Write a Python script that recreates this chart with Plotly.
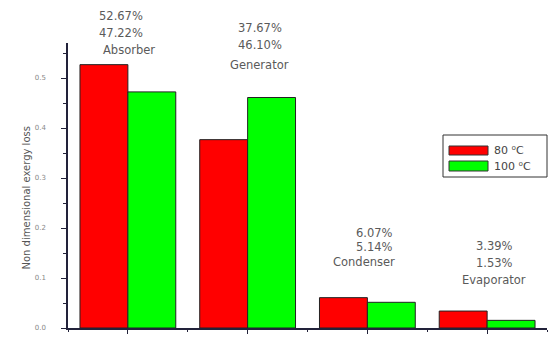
import plotly.graph_objects as go

categories = ["Absorber", "Generator", "Condenser", "Evaporator"]
loss_80 = [0.5267, 0.3767, 0.0607, 0.0339]
loss_100 = [0.4722, 0.4610, 0.0514, 0.0153]
series_names = ["80 ⁰C", "100 ⁰C"]
y_ticks = [0.0, 0.1, 0.2, 0.3, 0.4, 0.5]

W, H = 549, 337
L, R, T, B = 68, 2, 43, 9
PW, PH = W - L - R, H - T - B

def px(x):
    return (x - L) / PW

def py(y):
    return (H - B - y) / PH

xs = list(range(len(categories)))
fig = go.Figure()
fig.add_trace(go.Bar(x=xs, y=loss_80, name=series_names[0],
                     marker=dict(color="#ff0000", line=dict(color="#222222", width=1))))
fig.add_trace(go.Bar(x=xs, y=loss_100, name=series_names[1],
                     marker=dict(color="#00ff00", line=dict(color="#222222", width=1))))

# label positions (styling): (dx pct, dx name, y line1, y line2, y line3 in px)
label_layout = [
    (-0.06, 0.01, 16, 33, 50),
    (0.10, 0.10, 28, 45, 65),
    (0.06, -0.03, 233, 247, 262),
    (0.06, 0.06, 246, 263, 280),
]
tf = dict(family="DejaVu Sans", size=11.5, color="#5a5a5a")
for i, cat in enumerate(categories):
    dxp, dxn, y1, y2, y3 = label_layout[i]
    for txt, yy, dx in [(f"{loss_80[i]*100:.2f}%", y1, dxp),
                        (f"{loss_100[i]*100:.2f}%", y2, dxp),
                        (cat, y3, dxn)]:
        fig.add_annotation(x=xs[i] + dx, y=py(yy), xref="x", yref="paper",
                           text=txt, showarrow=False, font=tf,
                           xanchor="center", yanchor="middle")

# y title
fig.add_annotation(x=px(18), y=py(198), xref="paper", yref="paper",
                   text="Non dimensional exergy loss", textangle=-90,
                   showarrow=False, font=dict(family="DejaVu Sans", size=10, color="#555555"))

# manual legend
fig.add_shape(type="rect", xref="paper", yref="paper",
              x0=px(443), x1=px(547), y0=py(177), y1=py(135),
              line=dict(color="#333333", width=1), fillcolor="white")
for (col, y0, y1, ty, name) in [("#ff0000", 146, 155, 150, series_names[0]),
                                ("#00ff00", 161, 171, 166, series_names[1])]:
    fig.add_shape(type="rect", xref="paper", yref="paper",
                  x0=px(449), x1=px(488), y0=py(y1), y1=py(y0),
                  line=dict(color="#333333", width=1), fillcolor=col)
    fig.add_annotation(x=px(492), y=py(ty), xref="paper", yref="paper",
                       text=name, showarrow=False, xanchor="left", yanchor="middle",
                       font=dict(family="DejaVu Sans", size=11, color="#444444"))

axis_col = "#22223a"
fig.update_layout(
    width=W, height=H,
    margin=dict(l=L, r=R, t=T, b=B),
    paper_bgcolor="white", plot_bgcolor="white",
    barmode="group", bargap=0.2, bargroupgap=0,
    showlegend=False,
    xaxis=dict(range=[-0.5, 3.5], tickvals=xs, showticklabels=False,
               ticks="outside", ticklen=4, tickcolor=axis_col,
               minor=dict(dtick=0.5, tick0=-0.5, ticks="outside", ticklen=2, tickcolor=axis_col),
               showline=True, linecolor=axis_col, linewidth=1.5,
               showgrid=False, zeroline=False),
    yaxis=dict(range=[0, 0.57], tickvals=y_ticks, tickformat=".1f",
               ticks="outside", ticklen=5, tickcolor=axis_col,
               minor=dict(dtick=0.05, ticks="outside", ticklen=3, tickcolor=axis_col),
               ticklabelstandoff=14,
               tickfont=dict(family="DejaVu Sans", size=7, color="#888888"),
               showline=True, linecolor=axis_col, linewidth=1.5,
               showgrid=False, zeroline=False),
)

fig.write_html("out.html")
